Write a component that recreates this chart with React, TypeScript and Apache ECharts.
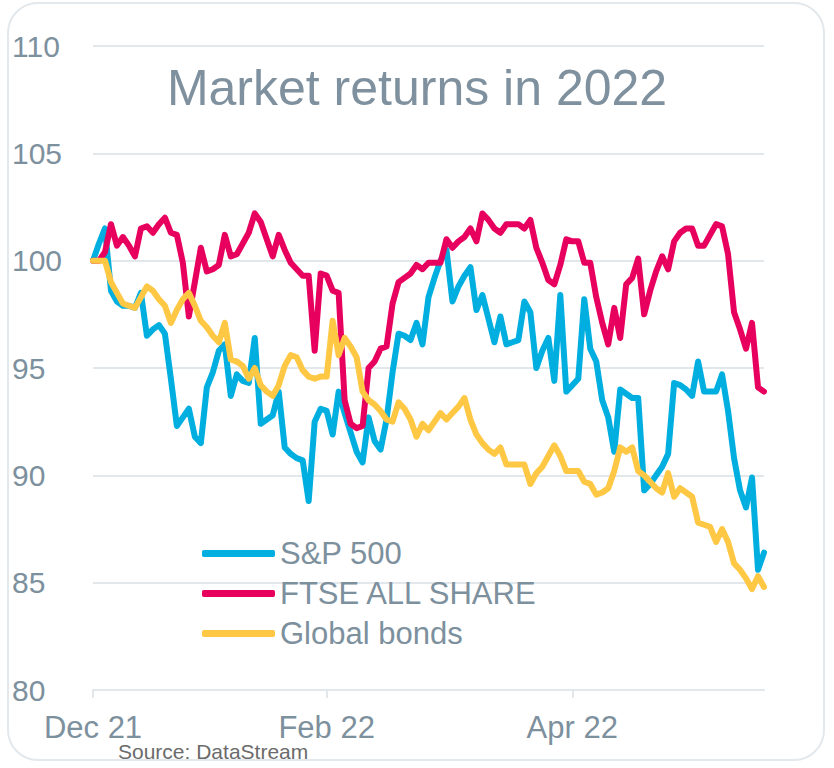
import React, { useEffect, useRef } from "react";
import * as echarts from "echarts";

const tickLabels = ["Dec 21", "Feb 22", "Apr 22"];
const tickIndices = [0, 39, 80];

const sp500 = [
  100.0, 100.8, 101.5, 98.6, 98.1, 97.9, 97.9, 97.8, 98.5, 96.5,
  96.8, 97.0, 96.6, 94.5, 92.3, 92.7, 93.1, 91.8, 91.5, 94.1,
  94.8, 95.8, 96.1, 93.7, 94.7, 94.4, 94.3, 96.4, 92.4, 92.6,
  92.8, 93.9, 91.3, 91.0, 90.8, 90.7, 88.8, 92.5, 93.1, 93.0,
  91.9, 93.9, 92.9, 92.0, 91.1, 90.6, 92.7, 91.6, 91.2, 92.6,
  94.8, 96.6, 96.5, 96.3, 97.1, 96.1, 98.3, 99.2, 100.0, 100.5,
  98.1, 98.8, 99.3, 99.7, 97.7, 98.4, 97.3, 96.2, 97.4, 96.1,
  96.2, 96.3, 98.1, 97.6, 95.0, 95.8, 96.4, 94.4, 98.4, 93.9,
  94.2, 94.5, 98.2, 95.9, 95.3, 93.5, 92.7, 91.1, 94.0, 93.8,
  93.6, 93.6, 89.3, 89.6, 90.0, 90.4, 91.0, 94.3, 94.2, 94.0,
  93.7, 95.3, 93.9, 93.9, 93.9, 94.7, 93.0, 90.8, 89.3, 88.5,
  89.9, 85.6, 86.4,
];

const ftse = [
  100.0, 100.0, 100.4, 101.7, 100.7, 101.1, 100.7, 100.2, 101.5, 101.6,
  101.3, 101.7, 102.0, 101.3, 101.2, 99.9, 97.4, 99.0, 100.6, 99.5,
  99.6, 99.8, 101.2, 100.2, 100.3, 100.8, 101.3, 102.2, 101.8, 101.0,
  100.2, 101.2, 100.5, 99.9, 99.6, 99.3, 99.3, 95.8, 99.4, 99.3,
  98.6, 98.5, 93.5, 92.4, 92.2, 92.3, 95.0, 95.3, 95.9, 96.0,
  98.0, 99.0, 99.2, 99.4, 99.8, 99.6, 99.9, 99.9, 99.9, 101.0,
  100.6, 100.9, 101.1, 101.5, 100.9, 102.2, 101.9, 101.5, 101.3, 101.7,
  101.7, 101.7, 101.5, 101.9, 100.6, 99.9, 99.1, 98.9, 99.8, 101.0,
  100.9, 100.9, 99.9, 99.9, 98.3, 97.1, 96.1, 97.8, 96.4, 98.9,
  99.2, 100.1, 97.5, 98.6, 99.5, 100.2, 99.6, 100.9, 101.3, 101.5,
  101.5, 100.7, 100.7, 101.2, 101.7, 101.6, 100.3, 97.6, 96.8, 95.9,
  97.1, 94.1, 93.9,
];

const globalBonds = [
  100.0, 100.0, 100.0, 99.0, 98.5, 98.0, 97.9, 97.8, 98.3, 98.8,
  98.6, 98.2, 97.9, 97.1, 97.7, 98.2, 98.5, 97.9, 97.2, 96.9,
  96.5, 96.2, 97.1, 95.4, 95.3, 95.1, 94.5, 95.0, 94.2, 93.9,
  93.7, 94.2, 95.1, 95.6, 95.5, 94.9, 94.6, 94.5, 94.6, 94.6,
  97.2, 95.6, 96.4, 96.0, 95.5, 93.9, 93.5, 93.3, 93.0, 92.6,
  92.5, 93.4, 93.1, 92.6, 91.8, 92.4, 92.1, 92.5, 92.9, 92.6,
  92.9, 93.2, 93.6, 92.6, 91.9, 91.5, 91.2, 91.0, 91.3, 90.5,
  90.5, 90.5, 90.5, 89.6, 90.1, 90.4, 90.9, 91.4, 90.9, 90.2,
  90.2, 90.2, 89.7, 89.6, 89.1, 89.2, 89.4, 90.2, 91.3, 91.1,
  91.3, 90.2, 90.0, 89.7, 89.4, 89.2, 90.1, 89.0, 89.4, 89.2,
  89.0, 87.8, 87.7, 87.6, 86.9, 87.5, 86.9, 85.9, 85.6, 85.2,
  84.7, 85.3, 84.8,
];

// trading-day index categories
const days = sp500.map((_, i) => String(i));

const seriesNames = ["S&P 500", "FTSE ALL SHARE", "Global bonds"];
const seriesColors = ["#00aee0", "#e8005f", "#ffc844"];

const FONT = "'Liberation Sans', Arial, sans-serif";
const TEXT = "#7d909d";
const GRID = "#e2e7eb";

export default function App() {
  const ref = useRef<HTMLDivElement>(null);

  useEffect(() => {
    document.body.style.margin = "0";
    if (!ref.current) return;
    const chart = echarts.init(ref.current, null, { renderer: "svg" });
    const labelAt = (idx: number) => tickIndices.indexOf(idx);
    const dataSets = [sp500, ftse, globalBonds];
    chart.setOption({
      animation: false,
      backgroundColor: "#ffffff",
      textStyle: { fontFamily: FONT },
      title: {
        text: "Market returns in 2022",
        left: "center",
        top: 58,
        textStyle: { fontSize: 50, fontWeight: "normal", color: "#7f919e", fontFamily: FONT },
      },
      grid: { left: 93, right: 70, top: 46, bottom: 78, containLabel: false },
      legend: {
        orient: "vertical",
        left: 197,
        top: 533,
        itemWidth: 73,
        itemHeight: 7,
        itemGap: 9,
        icon: "roundRect",
        data: seriesNames,
        textStyle: { fontSize: 31, color: TEXT, fontFamily: FONT, lineHeight: 31 },
      },
      xAxis: {
        type: "category",
        data: days,
        boundaryGap: false,
        axisLine: { show: true, lineStyle: { color: GRID, width: 2 } },
        axisTick: {
          show: true,
          interval: (idx: number) => labelAt(idx) >= 0,
          length: 8,
          lineStyle: { color: GRID, width: 2 },
        },
        axisLabel: {
          interval: (idx: number) => labelAt(idx) >= 0,
          formatter: (_v: string, idx: number) => {
            const k = labelAt(idx);
            return k >= 0 ? tickLabels[k] : "";
          },
          fontSize: 31,
          color: TEXT,
          fontFamily: FONT,
          margin: 22,
        },
        splitLine: { show: false },
      },
      yAxis: {
        type: "value",
        min: 80,
        max: 110,
        interval: 5,
        axisLine: { show: false },
        axisTick: { show: false },
        axisLabel: {
          fontSize: 30,
          color: TEXT,
          fontFamily: FONT,
          align: "left",
          margin: 81,
        },
        splitLine: { lineStyle: { color: GRID, width: 2 } },
      },
      series: seriesNames.map((name, k) => ({
        name,
        type: "line",
        data: dataSets[k],
        symbol: "none",
        color: seriesColors[k],
        lineStyle: { width: 6, color: seriesColors[k], cap: "round", join: "round" },
      })),
      graphic: [
        {
          type: "rect",
          shape: { x: 8, y: 3, width: 816, height: 757, r: 30 },
          style: { fill: "none", stroke: "#e3e8ec", lineWidth: 2 },
          silent: true,
        },
        {
          type: "text",
          left: 118,
          top: 741,
          style: { text: "Source: DataStream", fill: "#6b6b6b", fontSize: 21, fontFamily: FONT },
        },
      ],
    });
    return () => chart.dispose();
  }, []);

  return <div ref={ref} style={{ width: 834, height: 768 }} />;
}
